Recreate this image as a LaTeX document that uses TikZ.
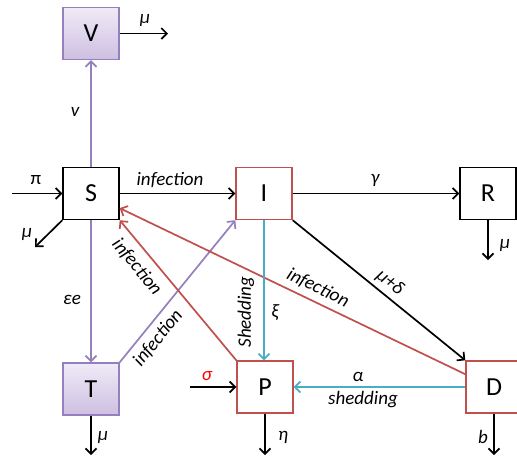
\documentclass[tikz,border=0pt]{standalone}
\usepackage{fontspec}
\setmainfont{Carlito}
\usetikzlibrary{arrows.meta}
\definecolor{myred}{HTML}{C0504D}
\definecolor{mypurple}{HTML}{9580BD}
\definecolor{mycyan}{HTML}{4BACC6}
\definecolor{lavtop}{HTML}{F0EBF7}
\definecolor{lavbot}{HTML}{CDBFE1}
\begin{document}
\begin{tikzpicture}[x=1pt,y=-1pt,
  box/.style={line width=1.4pt, minimum width=56pt, minimum height=52pt, inner sep=0pt, font=\fontsize{26}{28}\selectfont},
  blackbox/.style={box, draw=black, fill=white},
  redbox/.style={box, draw=myred, fill=white},
  purplebox/.style={box, draw=mypurple, top color=lavtop, bottom color=lavbot},
  flow/.style={line width=1.7pt, -{Straight Barb[length=5.5pt,width=11pt,line width=1.7pt]}},
  lbl/.style={font=\fontsize{19}{21}\selectfont\itshape, inner sep=1pt},
  lblup/.style={font=\fontsize{19}{21}\selectfont, inner sep=1pt}
]
\clip (0,0) rectangle (517,459);
\fill[white] (0,0) rectangle (517,459);

% boxes
\node[purplebox] (V) at (91,33.5) {V};
\node[blackbox] (S) at (91,193.5) {S};
\node[redbox] (I) at (264,193.5) {I};
\node[blackbox] (R) at (488,193.5) {R};
\node[purplebox] (T) at (91,389) {T};
\node[redbox] (P) at (265,387) {P};
\node[redbox] (D) at (494,387) {D};

% free ends
\coordinate (vout) at (168,33.5);
\coordinate (piin) at (12,193.5);
\coordinate (sout) at (35,247);
\coordinate (tout) at (91,455);
\coordinate (rout) at (488,260);
\coordinate (sigin) at (190,387);
\coordinate (pout) at (265,455);
\coordinate (dout) at (494,455);

% connectors
\draw[flow] (V.east) -- (vout);
\draw[flow, mypurple] (S.north) -- (V.south);
\draw[flow] (piin) -- (S.west);
\draw[flow] (S.south west) -- (sout);
\draw[flow] (S.east) -- (I.west);
\draw[flow, mypurple] (S.south) -- (T.north);
\draw[flow, mypurple] (T.north east) -- (I.south west);
\draw[flow] (T.south) -- (tout);
\draw[flow, myred] (P.north west) -- (S.south east);
\draw[flow, myred] (D.156) -- (S.-27);
\draw[flow] (I.east) -- (R.west);
\draw[flow] (R.south) -- (rout);
\draw[flow] (I.south east) -- (D.north west);
\draw[flow, mycyan] (I.south) -- (I.south |- P.north);
\draw[flow, mycyan] (D.west) -- (P.east);
\draw[flow] (sigin) -- (P.west);
\draw[flow] (P.south) -- (pout);
\draw[flow] (D.south) -- (dout);

% labels
\node[lbl] (l1) at (145,20) {μ};
\node[lbl] (l2) at (75,112) {v};
\node[lblup] (l3) at (36,180) {π};
\node[lbl] (l4) at (27,234) {μ};
\node[lbl] (l5) at (170,180) {infection};
\node[lbl] (l6) at (72,300) {εe};
\node[lbl, rotate=51] (l7) at (158,338) {infection};
\node[lbl] (l8) at (103,437) {μ};
\node[lbl, rotate=-50] (l9) at (137,267) {infection};
\node[lbl, rotate=-26] (l10) at (318,288) {infection};
\node[lbl] (l11) at (375,180) {γ};
\node[lbl] (l12) at (505,245) {μ};
\node[lbl, rotate=-39] (l13) at (390,283) {μ+δ};
\node[lbl] (l14) at (275,313) {ξ};
\node[lbl, rotate=90] (l15) at (246,312) {Shedding};
\node[lbl] (l16) at (358,377) {α};
\node[lbl] (l17) at (363,400) {shedding};
\node[lbl, text=red] (l18) at (207,376) {σ};
\node[lbl] (l19) at (283,437) {η};
\node[lbl] (l20) at (483,437) {b};
\end{tikzpicture}
\end{document}
